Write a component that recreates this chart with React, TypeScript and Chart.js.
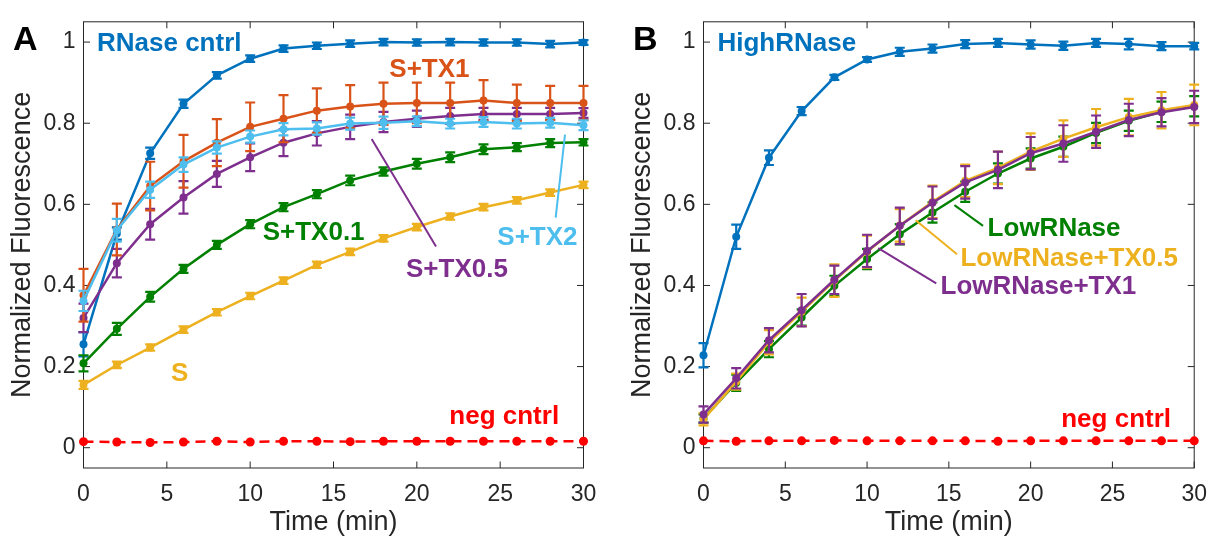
import React, { useEffect, useRef } from "react";
import { Chart, registerables } from "chart.js";

Chart.register(...registerables);

// ---------- shared axis data ----------
const TIME = [0, 2, 4, 6, 8, 10, 12, 14, 16, 18, 20, 22, 24, 26, 28, 30];
const X_TICKS = [0, 5, 10, 15, 20, 25, 30];
const Y_TICKS = [0, 0.2, 0.4, 0.6, 0.8, 1];
const X_LABEL = "Time (min)";
const Y_LABEL = "Normalized Fluorescence";

// ---------- panel A ----------
const A_RNASE = [0.255, 0.528, 0.726, 0.848, 0.918, 0.959, 0.984, 0.991, 0.996, 1.0, 0.999, 1.0, 0.999, 0.999, 0.995, 0.999];
const A_RNASE_ERR = [0.03, 0.015, 0.014, 0.01, 0.008, 0.008, 0.008, 0.008, 0.008, 0.008, 0.008, 0.008, 0.008, 0.008, 0.008, 0.006];
const A_TX1 = [0.376, 0.538, 0.645, 0.706, 0.752, 0.791, 0.811, 0.831, 0.841, 0.848, 0.85, 0.85, 0.856, 0.85, 0.85, 0.85];
const A_TX1_ERR = [0.065, 0.064, 0.06, 0.065, 0.058, 0.06, 0.058, 0.055, 0.053, 0.052, 0.05, 0.05, 0.05, 0.045, 0.042, 0.042];
const A_TX2 = [0.362, 0.536, 0.636, 0.698, 0.74, 0.767, 0.785, 0.787, 0.799, 0.801, 0.805, 0.799, 0.803, 0.799, 0.801, 0.795];
const A_TX2_ERR = [0.025, 0.028, 0.02, 0.018, 0.015, 0.015, 0.015, 0.015, 0.015, 0.015, 0.012, 0.012, 0.012, 0.012, 0.012, 0.012];
const A_TX05 = [0.32, 0.455, 0.551, 0.617, 0.675, 0.716, 0.752, 0.775, 0.791, 0.803, 0.811, 0.818, 0.823, 0.823, 0.823, 0.825];
const A_TX05_ERR = [0.035, 0.035, 0.038, 0.04, 0.032, 0.034, 0.033, 0.03, 0.03, 0.025, 0.02, 0.02, 0.015, 0.015, 0.015, 0.012];
const A_TX01 = [0.208, 0.293, 0.372, 0.441, 0.5, 0.551, 0.593, 0.625, 0.659, 0.681, 0.7, 0.716, 0.736, 0.741, 0.751, 0.753];
const A_TX01_ERR = [0.02, 0.015, 0.012, 0.01, 0.01, 0.01, 0.01, 0.01, 0.012, 0.01, 0.012, 0.012, 0.012, 0.01, 0.01, 0.008];
const A_S = [0.155, 0.204, 0.247, 0.291, 0.334, 0.374, 0.412, 0.451, 0.483, 0.516, 0.544, 0.57, 0.593, 0.61, 0.629, 0.648];
const A_S_ERR = [0.01, 0.008, 0.008, 0.008, 0.008, 0.008, 0.008, 0.008, 0.008, 0.008, 0.008, 0.008, 0.008, 0.008, 0.008, 0.008];
const A_NEG = [0.015, 0.014, 0.013, 0.014, 0.016, 0.014, 0.016, 0.016, 0.015, 0.016, 0.016, 0.016, 0.016, 0.016, 0.016, 0.016];

// ---------- panel B ----------
const B_HIGH = [0.228, 0.52, 0.715, 0.83, 0.913, 0.957, 0.976, 0.984, 0.995, 0.998, 0.994, 0.991, 0.998, 0.995, 0.99, 0.99];
const B_HIGH_ERR = [0.03, 0.03, 0.018, 0.01, 0.006, 0.006, 0.01, 0.01, 0.01, 0.01, 0.01, 0.01, 0.01, 0.013, 0.01, 0.008];
const B_LOW = [0.072, 0.16, 0.243, 0.321, 0.399, 0.465, 0.526, 0.58, 0.631, 0.676, 0.713, 0.742, 0.776, 0.806, 0.828, 0.842];
const B_LOW_ERR = [0.01, 0.02, 0.02, 0.02, 0.025, 0.025, 0.025, 0.025, 0.025, 0.025, 0.025, 0.025, 0.025, 0.025, 0.025, 0.025];
const B_TX05 = [0.07, 0.163, 0.26, 0.335, 0.412, 0.483, 0.548, 0.606, 0.658, 0.69, 0.73, 0.762, 0.79, 0.815, 0.832, 0.845];
const B_TX05_ERR = [0.015, 0.02, 0.03, 0.035, 0.04, 0.04, 0.04, 0.04, 0.04, 0.04, 0.045, 0.045, 0.045, 0.045, 0.045, 0.05];
const B_TX1 = [0.082, 0.171, 0.265, 0.339, 0.414, 0.485, 0.547, 0.604, 0.654, 0.685, 0.726, 0.75, 0.779, 0.808, 0.827, 0.84];
const B_TX1_ERR = [0.02, 0.025, 0.03, 0.04, 0.035, 0.04, 0.045, 0.04, 0.04, 0.045, 0.04, 0.045, 0.04, 0.04, 0.035, 0.04];
const B_NEG = [0.017, 0.016, 0.017, 0.017, 0.018, 0.017, 0.017, 0.017, 0.017, 0.016, 0.017, 0.017, 0.017, 0.017, 0.017, 0.017];

// ---------- styles ----------
const FONT = "'Liberation Sans', Arial, Helvetica, sans-serif";
const AXIS = "#262626";
const C_BLUE = "#0072BD";
const C_ORANGE = "#D95319";
const C_YELLOW = "#EDB120";
const C_PURPLE = "#7E2F8E";
const C_GREEN = "#008000";
const C_CYAN = "#4DBEEE";
const C_RED = "#FF0000";

type Ann = { text: string; color: string; x: number; y: number; line?: number[] };

function series(vals: number[], color: string, errors: number[] | null, dashed = false) {
  return {
    data: TIME.map((t, i) => ({ x: t, y: vals[i] })),
    borderColor: color,
    backgroundColor: color,
    pointBackgroundColor: color,
    pointBorderColor: color,
    borderWidth: 2.5,
    pointRadius: dashed ? 4.5 : 4,
    pointBorderWidth: 0,
    tension: 0,
    clip: false,
    borderDash: dashed ? [10, 6] : [],
    errors,
  } as any;
}

function decoPlugin(letter: string, anns: Ann[]) {
  return {
    id: "deco",
    beforeDatasetsDraw(chart: any) {
      const { ctx, chartArea: a } = chart;
      const xs = chart.scales.x;
      const ys = chart.scales.y;
      ctx.save();
      ctx.strokeStyle = AXIS;
      ctx.lineWidth = 1;
      ctx.strokeRect(a.left, a.top, a.right - a.left, a.bottom - a.top);
      const tl = 6.5;
      ctx.beginPath();
      X_TICKS.forEach((v) => {
        const px = xs.getPixelForValue(v);
        ctx.moveTo(px, a.bottom);
        ctx.lineTo(px, a.bottom - tl);
        ctx.moveTo(px, a.top);
        ctx.lineTo(px, a.top + tl);
      });
      Y_TICKS.forEach((v) => {
        const py = ys.getPixelForValue(v);
        ctx.moveTo(a.left, py);
        ctx.lineTo(a.left + tl, py);
        ctx.moveTo(a.right, py);
        ctx.lineTo(a.right - tl, py);
      });
      ctx.stroke();
      ctx.restore();
    },
    beforeDatasetDraw(chart: any, args: any) {
      const ds = chart.data.datasets[args.index];
      if (!ds.errors) return;
      const { ctx } = chart;
      const xs = chart.scales.x;
      const ys = chart.scales.y;
      ctx.save();
      ctx.strokeStyle = ds.borderColor;
      ctx.lineWidth = 2.2;
      ctx.setLineDash([]);
      const cap = 5;
      ds.data.forEach((p: any, i: number) => {
        const e = ds.errors[i];
        const px = xs.getPixelForValue(p.x);
        const y1 = ys.getPixelForValue(p.y - e);
        const y2 = ys.getPixelForValue(p.y + e);
        ctx.beginPath();
        ctx.moveTo(px, y1);
        ctx.lineTo(px, y2);
        ctx.moveTo(px - cap, y1);
        ctx.lineTo(px + cap, y1);
        ctx.moveTo(px - cap, y2);
        ctx.lineTo(px + cap, y2);
        ctx.stroke();
      });
      ctx.restore();
    },
    afterDatasetsDraw(chart: any) {
      const { ctx } = chart;
      const xs = chart.scales.x;
      const ys = chart.scales.y;
      ctx.save();
      anns.forEach((an) => {
        ctx.fillStyle = an.color;
        ctx.strokeStyle = an.color;
        if (an.line) {
          ctx.lineWidth = 2;
          ctx.beginPath();
          ctx.moveTo(xs.getPixelForValue(an.line[0]), ys.getPixelForValue(an.line[1]));
          ctx.lineTo(xs.getPixelForValue(an.line[2]), ys.getPixelForValue(an.line[3]));
          ctx.stroke();
        }
        ctx.font = `bold 26px ${FONT}`;
        ctx.textAlign = "left";
        ctx.textBaseline = "alphabetic";
        ctx.fillText(an.text, xs.getPixelForValue(an.x), ys.getPixelForValue(an.y));
      });
      ctx.restore();
    },
    afterDraw(chart: any) {
      const { ctx } = chart;
      ctx.save();
      ctx.fillStyle = "#000";
      ctx.font = `bold 34px ${FONT}`;
      ctx.textAlign = "left";
      ctx.textBaseline = "alphabetic";
      ctx.fillText(letter, 13, 50);
      ctx.restore();
    },
  };
}

function makeConfig(datasets: any[], rightPad: number, letter: string, anns: Ann[]) {
  const tickFont = { family: FONT, size: 23 };
  return {
    type: "line" as const,
    data: { datasets },
    options: {
      responsive: false,
      animation: false as const,
      devicePixelRatio: 1,
      layout: { padding: { top: 15, right: rightPad, left: 0, bottom: 0 } },
      plugins: { legend: { display: false }, tooltip: { enabled: false } },
      scales: {
        x: {
          type: "linear" as const,
          min: 0,
          max: 30,
          afterBuildTicks: (s: any) => {
            s.ticks = X_TICKS.map((v) => ({ value: v }));
          },
          afterFit: (s: any) => {
            s.height = 68;
          },
          grid: { display: false, drawTicks: false },
          border: { display: false },
          ticks: {
            padding: 13,
            color: AXIS,
            font: tickFont,
            maxRotation: 0,
            autoSkip: false,
            callback: (v: any) => String(v),
          },
          title: {
            display: true,
            text: X_LABEL,
            color: AXIS,
            font: { family: FONT, size: 27, lineHeight: 1 },
            padding: { top: 0, bottom: 0 },
          },
        },
        y: {
          type: "linear" as const,
          min: -0.05,
          max: 1.05,
          afterBuildTicks: (s: any) => {
            s.ticks = Y_TICKS.map((v) => ({ value: v }));
          },
          afterFit: (s: any) => {
            s.width = 83.5;
          },
          grid: { display: false, drawTicks: false },
          border: { display: false },
          ticks: {
            padding: 8,
            color: AXIS,
            font: tickFont,
            autoSkip: false,
            callback: (v: any) => String(v),
          },
          title: {
            display: true,
            text: Y_LABEL,
            color: AXIS,
            font: { family: FONT, size: 27, lineHeight: 1.2 },
            padding: { top: 6, bottom: 0 },
          },
        },
      },
    },
    plugins: [decoPlugin(letter, anns)],
  };
}

const ANN_A: Ann[] = [
  { text: "RNase cntrl", color: C_BLUE, x: 0.81, y: 0.977 },
  { text: "S+TX1", color: C_ORANGE, x: 18.35, y: 0.914 },
  { text: "S+TX2", color: C_CYAN, x: 24.83, y: 0.499, line: [28.89, 0.772, 28.33, 0.567] },
  { text: "S+TX0.5", color: C_PURPLE, x: 19.35, y: 0.422, line: [17.29, 0.761, 21.15, 0.496] },
  { text: "S+TX0.1", color: C_GREEN, x: 10.75, y: 0.511 },
  { text: "S", color: C_YELLOW, x: 5.25, y: 0.164 },
  { text: "neg cntrl", color: C_RED, x: 21.95, y: 0.059 },
];

const ANN_B: Ann[] = [
  { text: "HighRNase", color: C_BLUE, x: 0.85, y: 0.978 },
  { text: "LowRNase", color: C_GREEN, x: 17.37, y: 0.522, line: [15.34, 0.598, 17.09, 0.547] },
  { text: "LowRNase+TX0.5", color: C_YELLOW, x: 15.71, y: 0.448, line: [12.97, 0.561, 15.5, 0.477] },
  { text: "LowRNase+TX1", color: C_PURPLE, x: 14.49, y: 0.378, line: [10.68, 0.492, 14.23, 0.405] },
  { text: "neg cntrl", color: C_RED, x: 21.87, y: 0.05 },
];

function Panel({ left, width, config }: { left: number; width: number; config: () => any }) {
  const ref = useRef<HTMLCanvasElement | null>(null);
  useEffect(() => {
    if (!ref.current) return;
    const chart = new Chart(ref.current, config());
    return () => chart.destroy();
  }, []);
  return (
    <canvas
      ref={ref}
      width={width}
      height={536}
      style={{ position: "absolute", left, top: 0, width, height: 536 }}
    />
  );
}

export default function App() {
  const cfgA = () =>
    makeConfig(
      [
        series(A_TX2, C_CYAN, A_TX2_ERR),
        series(A_TX1, C_ORANGE, A_TX1_ERR),
        series(A_TX05, C_PURPLE, A_TX05_ERR),
        series(A_TX01, C_GREEN, A_TX01_ERR),
        series(A_S, C_YELLOW, A_S_ERR),
        series(A_RNASE, C_BLUE, A_RNASE_ERR),
        series(A_NEG, C_RED, null, true),
      ],
      26.5,
      "A",
      ANN_A
    );
  const cfgB = () =>
    makeConfig(
      [
        series(B_TX1, C_PURPLE, B_TX1_ERR),
        series(B_TX05, C_YELLOW, B_TX05_ERR),
        series(B_LOW, C_GREEN, B_LOW_ERR),
        series(B_HIGH, C_BLUE, B_HIGH_ERR),
        series(B_NEG, C_RED, null, true),
      ],
      16,
      "B",
      ANN_B
    );
  return (
    <div
      style={{
        position: "fixed",
        left: 0,
        top: 0,
        width: 1220,
        height: 536,
        background: "#fff",
        overflow: "hidden",
      }}
    >
      <Panel left={0} width={610} config={cfgA} />
      <Panel left={620} width={600} config={cfgB} />
    </div>
  );
}
